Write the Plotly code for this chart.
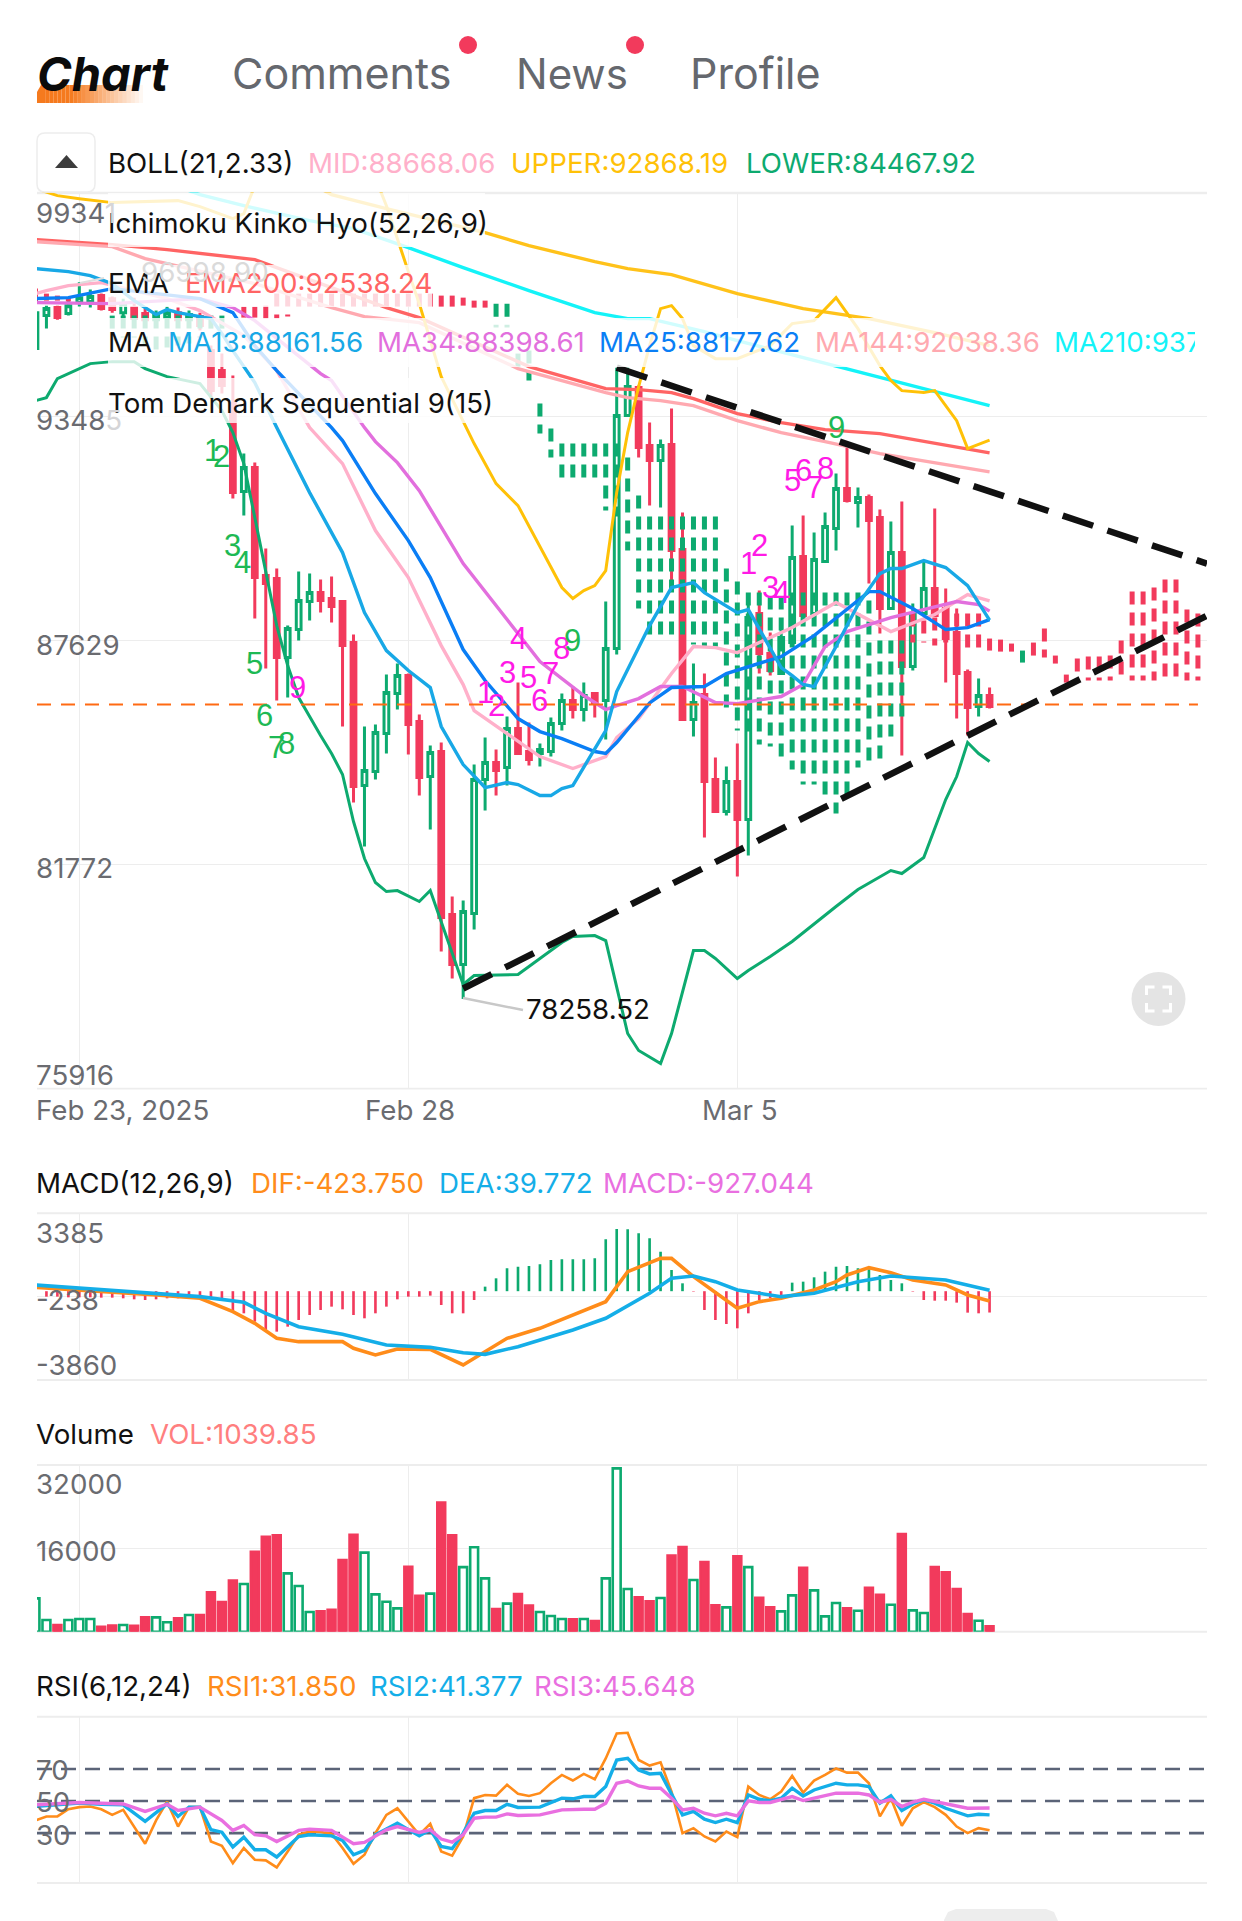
import plotly.graph_objects as go

W, H = 1242, 1921
RED = "#F23A5C"
GREEN = "#0DAA6F"
GRID = "#EDEDED"
FONT = "Inter"
RIGHT = 1207

# ---------- candles (4h), index 0 = Feb 23, 30 = Feb 28, 60 = Mar 5 ----------
FIRST_INDEX = -4
open_ = [95262,96125,96334,96177,96465,96491,96648,96569,96203,96334,96177,96020,96073,96203,96020,96099,95210,94687,93825,91524,92151,89328,89250,87185,87917,88649,88884,88727,88649,87577,83839,84205,85198,86244,86714,85512,84074,84728,80467,79160,80493,83996,84440,84310,85329,84728,84676,84728,85459,86061,85826,86244,86061,87420,93511,94243,92727,92335,92753,90008,85564,86218,83996,83160,83944,82951,88335,87290,86767,87577,89825,88335,89695,90557,91603,91237,91367,90845,88466,89930,86950,88335,88989,88466,87838,86793,85905,86192]
high_ = [96203,96386,96386,96517,96998.9,96805,96700,96622,96569,96595,96308,96256,96360,96334,96256,96203,95341,95132,94556,92517,92282,90034,89512,88022,89433,89381,89224,89303,88675,87786,85381,85433,86740,87028,86767,85695,84885,84964,80937,80833,84388,85094,84780,85643,86531,85486,84938,85617,86244,86426,86531,86244,88649,94765,94765,94295,93328,92884,93694,90975,87028,86767,84571,84336,84938,88571,88936,87838,87969,90636,90897,90453,90975,91995,92727,91629,91446,91054,90740,91263,88597,89721,91080,88989,88466,86871,86636,86401]
low_ = [94870,95785,96020,96125,96360,96334,96256,96203,96099,95995,95943,95943,95995,95943,95943,95733,93955,94086,91341,90897,88204,86898,86061,86139,87629,88152,88361,88100,85381,83395,82245,83996,84676,85826,84650,83577,82689,79500,78794,78258.52,80075,83186,83577,83839,84650,84362,84336,84597,85277,85590,85512,85617,85041,87263,93485,92413,91158,91106,88936,85538,85120,82480,83134,83055,81460,82010,86767,86714,86740,87498,88256,88074,89669,89982,91237,90583,89119,87812,88440,84623,86845,88283,88256,86531,85590,85146,85643,85852]
close_ = [96203,96308,96073,96386,96595,96622,96308,96282,96438,96047,96020,96151,96203,96020,96151,95864,94164,94295,91498,92151,89276,89119,87185,87943,88675,88884,88675,88518,87498,83813,84231,85224,86270,86714,85433,84048,84702,80389,79160,80546,83996,84440,84231,85329,84676,84519,84780,85459,86061,85826,86192,86009,87420,93511,94269,92675,92335,92727,89982,85564,86009,83944,83160,83944,82951,88231,87290,86845,87708,89799,88283,89747,90610,91603,91289,91367,90766,88466,89930,86950,88335,88989,88283,87682,86767,85878,86192,85905]

# ---------- volume ----------
volume = [6400,2240,1280,2240,2430,2430,960,1200,1280,1150,2750,2750,1800,2560,3200,3200,7550,5700,9800,9150,15360,18200,18500,11200,8770,3780,3900,4220,13760,18600,15170,7170,5760,4480,12480,6900,7300,24800,18500,12400,16200,10240,4350,5380,7230,5000,3780,3000,2430,2370,2430,2050,10240,31360,8190,6600,5820,6460,14600,16260,9920,13380,5060,4670,14460,12400,6530,4670,3900,6980,12290,7940,2940,5500,4480,4030,8450,7100,5180,18750,4100,3580,12400,11400,8190,3390,2110,1039.85]

# ---------- MACD ----------
macd_hist = [-238,-238,-238,-267,-267,-267,-281,-281,-310,-354,-383,-354,-310,-310,-310,-310,-310,-383,-890,-962,-1324,-1759,-1759,-1542,-1252,-1035,-817,-672,-788,-1035,-1179,-962,-672,-354,-238,-238,-194,-600,-962,-962,-383,197,559,994,1066,1095,1168,1356,1385,1385,1385,1429,2255,2704,2689,2515,2298,1718,922,342,-20,-817,-1252,-1426,-1614,-962,-383,-310,-238,371,414,603,849,1066,1095,994,951,704,487,342,-20,-383,-412,-412,-498,-933,-962,-927.044]
dif_idx = [-4,0,7,11,14,16,18,20,24,25,27,29,32,35,39,42,45,48,50,53,54,56,60,62,64,67,69,70,72,74,76,79,81,83]
dif_val = [168,52,-165,-310,-890,-1397,-2049,-2194,-2194,-2484,-2773,-2513,-2527,-3208,-2049,-1614,-1035,-455,849,1426,1426,632,-745,-455,-310,52,412,704,1023,806,487,270,-165,-423.75]
dea_idx = [-4,0,7,11,15,17,20,24,28,32,35,37,40,45,48,52,54,56,58,60,64,67,71,74,79,83]
dea_val = [270,125,-93,-238,-484,-962,-1542,-1875,-2339,-2440,-2672,-2744,-2411,-1687,-1179,-93,559,661,414,52,-238,-93,414,661,487,39.772]

# ---------- RSI ----------
rsi1 = [37.9,40.4,40.4,44.9,46.2,46.6,44.9,41.4,44.5,34.1,23.4,37.9,49.7,34.1,46.2,46.2,24.8,22.1,11.3,20.7,13.4,13,8.6,18.6,29,31,30.6,29.6,20.7,10.9,16.5,30,41.4,45.5,37.3,29,35.8,18.6,15.9,27.9,51.8,53.8,53.4,60.1,54.5,53.2,54.9,61.1,66.3,62.8,66.9,63.6,76.6,92.2,92.6,75.6,72.1,74.2,55.9,30,33.1,27.9,24.8,31,27.5,59,53.8,51.1,55.9,65.7,55.3,62.8,66.3,70.4,67.7,67.7,61.1,40.4,51.8,34.6,45.5,49.3,46.2,41.4,34.1,30,33.1,31.85]
rsi2_idx = [-4,-2,0,2,4,6,8,9,10,11,12,13,14,15,16,17,18,20,21,23,24,25,26,27,29,31,32,33,34,35,36,37,38,39,40,42,44,45,46,47,48,49,50,51,52,53,54,55,56,57,58,59,60,61,62,63,64,65,66,67,69,70,71,72,73,74,75,76,77,78,79,81,82,83]
rsi2_val = [46.6,47.6,48.7,48,47.6,37.3,48.2,40.4,46.2,46.2,32.1,30.6,21.3,27.5,19.6,19.6,15.1,27.9,29,28.3,25.4,16.5,19.2,29,36.2,28.3,32.1,21.7,20.3,30,42.4,44.1,44.1,48,46,46.2,51.8,51.4,52.8,52.8,59,75.6,76.6,69.4,66.9,67.3,54.9,41.4,43.5,38.7,36.6,38.7,36.6,53.8,51.1,50.3,51.8,58,53.2,56.9,61.1,60.1,60.1,59,48.7,53.2,44.1,48.2,50.7,48.7,45.5,40.8,41.8,41.377]
rsi3_idx = [-4,0,4,6,8,9,11,13,14,15,16,17,18,20,21,23,25,26,28,29,31,32,33,34,35,36,37,38,39,40,42,44,46,47,48,49,50,51,52,53,54,55,56,57,58,59,60,61,62,63,65,66,67,69,71,72,73,74,75,76,77,79,81,83]
rsi3_val = [47.6,49.1,48.2,43.5,48,44.1,46.2,37.9,31.7,34.8,29,28.3,24.8,31.7,32.5,31.7,23.4,24.2,32.1,34.1,30.4,32.1,26.3,24.4,29,39.3,40,40,42,41,41.4,44.5,44.9,44.9,48.7,61.1,62.5,59.4,58,58,51.8,44.5,45.5,42.4,40.8,42.4,40.8,50.1,49.1,49.1,52.8,50.3,51.8,54.9,54.9,53.8,49.1,51.1,46.6,49.3,51.1,48.2,45.5,45.648]
rsi_levels = [70, 50, 30]

# ---------- overlays on the price chart ----------
ma13_idx = [-4,-1,1,3,5,7,8,9,11,12,13,14,16,18,21,23,24,26,28,29,30,32,33,35,37,39,40,42,43,44,45,48,49,50,52,54,56,57,60,61,64,65,66,67,69,71,73,74,75,77,79,81,83]
ma13 = [97353,97275,97170,96960,96517,96151,96282,96203,96099,96047,95654,95210,94373,93197,91498,90426,89930,88361,87368,87106,86845,86401,85381,84388,83787,83917,83866,83577,83577,83761,83839,85277,86296,86871,88022,89015,89145,88884,88361,88440,86924,86714,86480,86427,87473,88570,89380,89512,89512,89721,89538,89067,88161.56]
ma25_idx = [-4,-1,3,6,11,14,16,18,23,24,27,30,32,35,37,40,42,44,47,48,49,52,54,57,59,64,67,72,73,76,79,81,83]
ma25 = [96570,96595,96831,96726,96569,96203,95341,94687,93197,92857,91472,90244,89276,87394,86584,85590,85250,85067,84728,84676,84963,85999,86401,86427,86767,87211,87760,88910,88910,88466,87917,87969,88177.62]
ma34_idx = [-4,3,11,14,16,22,23,26,27,29,31,32,35,38,42,46,48,49,51,53,55,58,60,64,66,68,70,74,78,80,82,83]
ma34 = [96465,96438,96569,96334,95994,94609,94426,93197,92831,92282,91550,91080,89642,88545,87080,86192,85826,85930,86113,86427,86427,86009,85982,86166,86480,87472,87865,88231,88518,88649,88570,88398.61]
ma144_idx = [-4,3,6,16,23,26,31,40,48,50,53,56,60,64,68,73,83]
ma144 = [98059,97929,97615,96961,96334,96099,95942,94739,94112,93981,93903,93772,93380,93066,92831,92517,92038.36]
ma210_idx = [10,11,15,21,25,30,35,41,47,50,52,57,60,65,69,76,83]
ma210 = [99393,99288,99000,98608,98399,97902,97380,96778,96203,96046,96046,95706,95471,95105,94818,94295,93772]
ma_long_idx = [22,23,28,37,41,47,50,54,60,66,72,78,83]
ma_long = [99445,99288,98922,98294,97955,97536,97353,97196,96700,96308,96046,95680,95341]
ema200_idx = [-4,3,8,16,25,28,31,41,48,51,54,56,60,64,68,73,83]
ema200 = [98111,97981,97850,97589,96648,96334,96073,94792,94217,94191,94112,93955,93563,93328,93145,93040,92538.24]
boll_mid_idx = [-4,-3,-1,2,5,8,11,15,18,21,24,27,30,33,35,36,39,42,45,48,49,51,54,56,58,60,65,69,74,78,81,83]
boll_mid = [96700,96778,96909,96988,96778,96569,96256,95602,94687,93197,92256,90505,89276,87498,86479,85800,85199,84597,84283,84597,85094,85590,86767,87472,87446,87315,87969,88623,87865,88309,88832,88668.06]
boll_up_idx = [-4,-2,0,3,9,11,14,15,16,20,26,28,30,31,33,36,38,40,44,45,46,47,48,49,50,51,52,53,54,55,56,58,60,63,65,67,69,71,73,74,75,77,78,80,81,83]
boll_up = [99445,99262,99183,99079,99131,98974,98660,98791,99523,101222,100438,98999,97275,96438,94530,92779,91733,91158,89015,88727,88936,89067,89460,91498,93067,94269,95341,96308,96386,96047,95341,95000,95000,95341,95916,95994,96595,95785,94818,94426,94164,94112,94164,93380,92648,92868.19]
boll_low_idx = [-4,-3,-2,0,1,3,5,6,8,11,13,14,15,16,17,18,19,20,22,23,24,25,26,27,28,29,31,32,35,36,40,41,44,45,47,48,50,51,53,54,56,57,58,60,61,63,65,69,71,74,75,77,79,80,81,82,83]
boll_low = [93903,93981,94478,94739,94870,94922,94922,94739,94530,94347,93642,93067,92256,90845,89407,88022,86976,86139,85146,84676,84127,82898,81931,81304,81068,81094,80807,81094,78637,78872,78898,79107,79735,79892,79918,79787,77356,76912,76572,77356,79526,79526,79317,78794,79003,79369,79761,80676,81120,81617,81538,81956,83473,84074,84963,84676,84467.92]

# Ichimoku cloud (leading spans); each span pair is read per candle column
cloud_idx = [-4,-3,-2,-1,3,4,5,6,7,8,9,10,11,12,13,15,16,17,18,19,20,21,22,23,24,25,26,27,28,29,30,31,32,33,34,35,36,37,38,39,40,41,42,43,44,45,46,47,48,49,50,51,52,53,54,55,56,57,58,59,60,61,62,63,64,65,66,67,68,69,70,71,72,73,74,75,76,77,78,79,80,81,82,83,84,85,86,87,88,89,90,91,92,93,94,95,96,97,98,99,100,101,102]
span_a = [96465,96517,96517,96491,96125,96125,96125,96125,96125,96125,96125,96125,96125,96125,96125,96073,96073,96047,96047,96099,96360,96360,96360,96360,96360,96360,96360,96360,96360,96360,96360,96360,96360,96360,96360,96386,96334,96334,96438,96438,95132,95210,93825,93171,92779,92779,92779,92779,92779,92779,92413,91420,90871,90871,90871,90871,90871,90871,90871,89512,89172,88884,88884,88780,88780,88884,88884,88884,88884,88884,88884,88884,88675,87629,87629,87629,87577,87577,87498,87446,87368,87420,87420,87368,87341,87341,87368,87237,87185,87028,86531,86584,86584,86584,86584,86584,86584,86584,86584,86584,86584,86584,86584]
span_b = [96831,96700,96648,96595,95602,95550,95550,95341,95210,95289,95341,95393,95550,95733,95733,96360,96360,96386,96700,96700,96700,96700,96700,96700,96700,96700,96700,96700,96700,96700,96700,96700,96700,96648,96648,96595,96517,96517,95811,95811,94635,94426,93040,92413,91864,91864,91864,91681,91027,90871,89982,88466,87629,87629,87577,87577,87525,87472,87472,85878,85277,85068,84911,84859,84571,84257,83867,83867,83577,83107,83577,84310,84415,84467,85120,85538,88335,88152,88231,88466,88335,88335,88335,87682,87655,87551,87054,87577,87943,87237,86740,87159,87211,87211,87237,87629,88910,88910,89014,89224,89224,88440,88335]
last_price = 85957
XR = [-3.86, (RIGHT - 79.3) / 10.967]
trend_a_idx = [35, XR[1]]
trend_a = [78533, 88283]
trend_b_idx = [49, XR[1]]
trend_b = [94765, 89642]

# TD Sequential counts
td_idx = [12.1,13,14,14.9,16,16.9,18,18.9,19.9, 37,38,39,40,41,42,43,44,45, 61,62,63,64,65,66,67,68,69]
td_price = [92596,92439,90113,89668,87028,85669,84832,84937,86401, 86270,85930,86793,87682,86663,86061,86767,87420,87629, 89642,90113,89015,88884,91812,92073,91629,92125,93197]
td_text = list("123456789") * 3
TD_G, TD_M = "#1DB954", "#FF1AE6"
td_color = [TD_G]*8 + [TD_M] + [TD_M]*8 + [TD_G] + [TD_M]*8 + [TD_G]

# axis ticks
date_idx = [0, 30, 60]
date_labels = ["Feb 23, 2025", "Feb 28", "Mar 5"]
main_ticks = [75916, 81772, 87629, 93485, 99341]
macd_ticks = [-3860, -238, 3385]
vol_ticks = [0, 16000, 32000]
RSI_R = [-1.1, 102.6]

# ---------- helpers ----------
def xp(x): return x / W
def yp(y): return 1 - y / H

idx = list(range(FIRST_INDEX, FIRST_INDEX + len(open_)))
fig = go.Figure()

def line(x, y, color, width, ax="", dash=None):
    fig.add_trace(go.Scatter(x=x, y=y, mode="lines", xaxis="x"+ax, yaxis="y"+ax,
                             line=dict(color=color, width=width, dash=dash),
                             hoverinfo="skip", showlegend=False))

fig.add_trace(go.Candlestick(
    x=idx, open=open_, high=high_, low=low_, close=close_, xaxis="x", yaxis="y",
    increasing=dict(line=dict(color=GREEN, width=3), fillcolor="#FFFFFF"),
    decreasing=dict(line=dict(color=RED, width=3), fillcolor=RED),
    whiskerwidth=0, showlegend=False, hoverinfo="skip"))

# cloud columns
for col, test in ((GREEN, lambda a, b: a > b), (RED, lambda a, b: a <= b)):
    xs, ys = [], []
    for i, a, b in zip(cloud_idx, span_a, span_b):
        if test(a, b):
            xs += [i, i, None]
            ys += [max(a, b), min(a, b), None]
    line(xs, ys, col, 5, dash="13px,8px")

line(ma_long_idx, ma_long, "#FFC21A", 3.4)
line(ma210_idx, ma210, "#14F3F8", 3.4)
line(ema200_idx, ema200, "#FF6464", 3.4)
line(ma144_idx, ma144, "#FFA9B0", 3.4)
line(boll_up_idx, boll_up, "#FFC107", 3)
line(boll_low_idx, boll_low, GREEN, 3)
line(boll_mid_idx, boll_mid, "#FFB0CA", 3.4)
line(ma34_idx, ma34, "#E26FDD", 3.4)
line(ma25_idx, ma25, "#0A7EF5", 3.4)
line(ma13_idx, ma13, "#18A8E6", 3.4)
line([XR[0], 102], [last_price, last_price], "#FF6A13", 2, dash="14px,10px")
line(trend_a_idx, trend_a, "#111111", 6.5, dash="32px,15px")
line(trend_b_idx, trend_b, "#111111", 6.5, dash="32px,15px")

# MACD panel
is_up = [c >= o for o, c in zip(open_, close_)]
fig.add_trace(go.Bar(x=idx, y=macd_hist, xaxis="x2", yaxis="y2", width=0.24,
                     marker=dict(color=[GREEN if v > 0 else RED for v in macd_hist], line=dict(width=0)),
                     hoverinfo="skip", showlegend=False))
line(dif_idx, dif_val, "#FF8C1A", 3.6, "2")
line(dea_idx, dea_val, "#14AEE8", 3.6, "2")

# Volume panel
fig.add_trace(go.Bar(x=idx, y=volume, xaxis="x3", yaxis="y3", width=0.72,
                     marker=dict(color=["#FFFFFF" if u else RED for u in is_up],
                                 line=dict(color=[GREEN if u else RED for u in is_up], width=2.6)),
                     hoverinfo="skip", showlegend=False))

# RSI panel
for lv in rsi_levels:
    line(XR, [lv, lv], "#5B6478", 2.6, "4", dash="15px,9px")
line(idx, rsi1, "#FF8C1A", 2.6, "4")
line(rsi2_idx, rsi2_val, "#14AEE8", 3.4, "4")
line(rsi3_idx, rsi3_val, "#E96FE0", 3.4, "4")

# ---------- annotations ----------
ann = []
def text(x, y, s, color="#111111", size=27.7, anchor="left", clip=None, **kw):
    a = dict(x=xp(x - (1.5 if anchor == "left" else 0)), y=yp(y), xref="paper", yref="paper", text=s, showarrow=False,
             xanchor=anchor, yanchor="middle", borderpad=0, borderwidth=0, align="left",
             font=dict(family=FONT, size=size, color=color, **kw))
    if clip:
        a["width"] = clip
    ann.append(a)

LBL = "#6A6B70"
text(38, 73, "Chart", "#0B0B0B", 47, weight=700, style="italic")
text(233, 73, "Comments", "#65686E", 43)
text(517, 73, "News", "#65686E", 42)
text(691, 73, "Profile", "#65686E", 43)

text(109, 163, "BOLL(21,2.33)")
text(309, 163, "MID:88668.06", "#FFB0CA")
text(512, 163, "UPPER:92868.19", "#FFC107")
text(747, 163, "LOWER:84467.92", GREEN)
text(109, 223, "Ichimoku Kinko Hyo(52,26,9)")
text(109, 283, "EMA")
text(186, 283, "EMA200:92538.24", "#FF6464")
text(109, 342, "MA")
text(169, 342, "MA13:88161.56", "#18A8E6")
text(378, 342, "MA34:88398.61", "#E26FDD")
text(600, 342, "MA25:88177.62", "#0A7EF5")
text(816, 342, "MA144:92038.36", "#FFA9B0")
text(1055, 342, "MA210:937", "#14F3F8", clip=141)
text(109, 403, "Tom Demark Sequential 9(15)")

# price labels
text(37, 1075, str(main_ticks[0]), LBL)
text(37, 868, str(main_ticks[1]), LBL)
text(37, 645, str(main_ticks[2]), LBL)
text(37, 420, "9348<span style='color:#D5D5D7'>5</span>", LBL)
text(37, 213, "9934<span style='color:#D5D5D7'>1</span>", LBL)
for i, s, xx in zip(date_idx, date_labels, (37, 410, 740)):
    text(xx, 1109.5, s, LBL, anchor="left" if i == 0 else "center")

text(527, 1009, "78258.52", "#111111")
text(142, 272, "96998.90", "#DADADA")

text(37, 1182.5, "MACD(12,26,9)")
text(252, 1182.5, "DIF:-423.750", "#FF8C1A")
text(440, 1182.5, "DEA:39.772", "#14AEE8")
text(604, 1182.5, "MACD:-927.044", "#E96FE0")
text(37, 1232.5, str(macd_ticks[2]), LBL)
text(37, 1300, str(macd_ticks[1]), LBL)
text(37, 1365, str(macd_ticks[0]), LBL)

text(37, 1434, "Volume")
text(151, 1434, "VOL:1039.85", "#FF7F7F")
text(37, 1484, str(vol_ticks[2]), LBL)
text(37, 1551, str(vol_ticks[1]), LBL)

text(37, 1686, "RSI(6,12,24)")
text(208, 1686, "RSI1:31.850", "#FF8C1A")
text(371, 1686, "RSI2:41.377", "#14AEE8")
text(535, 1686, "RSI3:45.648", "#E96FE0")
for lv, yy in zip(rsi_levels, (1770, 1802, 1835)):
    text(37, yy, str(lv), LBL)

for i, p, s, c in zip(td_idx, td_price, td_text, td_color):
    ann.append(dict(x=i, y=p, xref="x", yref="y", text=s, showarrow=False, borderpad=0,
                    font=dict(family="Liberation Sans", size=31, color=c)))

# ---------- shapes ----------
shapes = []
def rect(x0, y0, x1, y1, fill, layer="above", lc=None, lw=0, **kw):
    shapes.append(dict(type="rect", xref="paper", yref="paper", x0=xp(x0), x1=xp(x1), y0=yp(y0), y1=yp(y1),
                       fillcolor=fill, line=dict(color=lc or fill, width=lw), layer=layer, **kw))
def seg(x0, y0, x1, y1, color, width, layer="below"):
    shapes.append(dict(type="line", xref="paper", yref="paper", x0=xp(x0), x1=xp(x1), y0=yp(y0), y1=yp(y1),
                       line=dict(color=color, width=width), layer=layer))
def rpath(points, fill=None, lc=None, lw=0, layer="above"):
    d = " ".join(("M" if k == 0 else "L") + f" {xp(a):.5f} {yp(b):.5f}" for k, (a, b) in enumerate(points))
    shapes.append(dict(type="path", xref="paper", yref="paper", path=d + (" Z" if fill else ""),
                       fillcolor=fill or "rgba(0,0,0,0)", line=dict(color=lc or "rgba(0,0,0,0)", width=lw), layer=layer))

# panel borders
for yy, ww in ((193, 2.4), (1088.6, 1.6), (1213.3, 2), (1380, 2), (1465, 2), (1631.7, 2), (1716.7, 2), (1883, 2)):
    seg(37, yy, RIGHT, yy, GRID, ww)

# fade bands behind the indicator legend rows
FADE = "rgba(255,255,255,0.8)"
rect(108, 193, 485, 247, FADE)
rect(108, 265, 432, 307, FADE)
rect(108, 318, 1194, 367, FADE)
rect(108, 378, 490, 423, FADE)

# gradient under "Chart"
n = 26
for k in range(n):
    x0 = 37 + (143 - 37) * k / n
    x1 = 37 + (143 - 37) * (k + 1) / n
    a = 1.0 if k < n * 0.3 else max(0, 1 - (k - n * 0.3) / (n * 0.7))
    rect(x0 + (4 if k == 0 else 0), 85, x1, 103, f"rgba(245,122,30,{a:.3f})", layer="below")
rpath([(37, 103), (37, 92), (41, 85), (44, 85), (44, 103)], fill="#F57A1E", layer="below")

# red dots
for cx in (468, 635):
    shapes.append(dict(type="circle", xref="paper", yref="paper", x0=xp(cx-9), x1=xp(cx+9), y0=yp(54), y1=yp(36),
                       fillcolor=RED, line=dict(width=0), layer="above"))

# collapse button
r = 8
shapes.append(dict(type="path", xref="paper", yref="paper", layer="above", fillcolor="#FFFFFF",
                   line=dict(color="#EDEDED", width=1.5),
                   path=(f"M {xp(37+r):.5f} {yp(133):.5f} L {xp(95-r):.5f} {yp(133):.5f} Q {xp(95):.5f} {yp(133):.5f} {xp(95):.5f} {yp(133+r):.5f} "
                         f"L {xp(95):.5f} {yp(192-r):.5f} Q {xp(95):.5f} {yp(192):.5f} {xp(95-r):.5f} {yp(192):.5f} "
                         f"L {xp(37+r):.5f} {yp(192):.5f} Q {xp(37):.5f} {yp(192):.5f} {xp(37):.5f} {yp(192-r):.5f} "
                         f"L {xp(37):.5f} {yp(133+r):.5f} Q {xp(37):.5f} {yp(133):.5f} {xp(37+r):.5f} {yp(133):.5f} Z")))
rpath([(55, 168), (78, 168), (66.5, 155)], fill="#3C3C3C")

# fullscreen button
cx, cy, cr = 1158.5, 999, 27
shapes.append(dict(type="circle", xref="paper", yref="paper", x0=xp(cx-cr), x1=xp(cx+cr), y0=yp(cy+cr), y1=yp(cy-cr),
                   fillcolor="#E4E4E4", line=dict(width=0), layer="above"))
for sx, sy in ((-1, -1), (1, -1), (-1, 1), (1, 1)):
    rpath([(cx+sx*12, cy+sy*4), (cx+sx*12, cy+sy*12), (cx+sx*4, cy+sy*12)], lc="#FFFFFF", lw=3)

# leader for the low label
seg(463, 998, 523, 1010, "#C8C8C8", 2.5, layer="above")
seg(80, 283, 104, 278, "#DDDDDD", 2, layer="above")

# bottom grey tab
rpath([(944, 1921), (944, 1920), (948, 1912), (956, 1909), (1046, 1909), (1054, 1912), (1058, 1921)], fill="#EDEDED", layer="below")

# ---------- axes ----------
def xaxis():
    return dict(domain=[xp(37), xp(RIGHT)], range=XR, tickvals=date_idx, showticklabels=False, showgrid=True,
                gridcolor=GRID, gridwidth=1.6, zeroline=False, showline=False, ticks="", fixedrange=True)
def yaxis(lo_px, hi_px, rng, ticks, anchor):
    return dict(domain=[yp(lo_px), yp(hi_px)], range=rng, tickvals=ticks, showticklabels=False, showgrid=True,
                gridcolor=GRID, gridwidth=1.6, zeroline=False, showline=False, ticks="", fixedrange=True, anchor=anchor)

x1 = xaxis(); x1["rangeslider"] = dict(visible=False); x1["anchor"] = "y"
x2 = xaxis(); x2["anchor"] = "y2"
x3 = xaxis(); x3["anchor"] = "y3"
x4 = xaxis(); x4["anchor"] = "y4"

fig.update_layout(
    width=W, height=H, margin=dict(l=0, r=0, t=0, b=0, pad=0),
    paper_bgcolor="#FFFFFF", plot_bgcolor="#FFFFFF", showlegend=False, hovermode=False,
    boxgap=0.38, bargap=0.2, barmode="overlay",
    xaxis=x1, xaxis2=x2, xaxis3=x3, xaxis4=x4,
    yaxis=yaxis(1088.6, 192.6, [main_ticks[0], main_ticks[-1]], main_ticks, "x"),
    yaxis2=yaxis(1380, 1213.3, [macd_ticks[0], macd_ticks[-1]], macd_ticks, "x2"),
    yaxis3=yaxis(1631.7, 1465, [vol_ticks[0], vol_ticks[-1]], vol_ticks, "x3"),
    yaxis4=yaxis(1883, 1716.7, RSI_R, [], "x4"),
    annotations=ann, shapes=shapes, font=dict(family=FONT),
)

fig.write_html("out.html", config=dict(displayModeBar=False, staticPlot=True),
               post_script="document.body.style.margin='0';document.body.style.background='#fff';")
